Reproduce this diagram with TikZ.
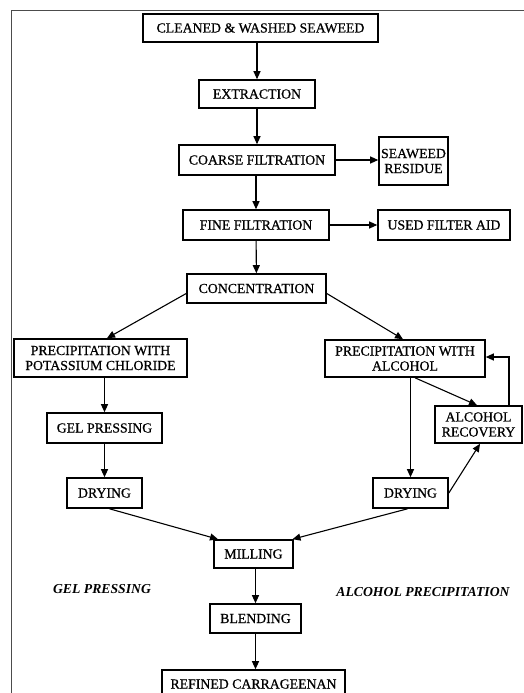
\documentclass[tikz,border=0pt]{standalone}
\usepackage{fontspec}
\setmainfont{Liberation Serif}
\newfontfamily\scanfont{Liberation Serif}[FakeBold=0.7]
\usepackage{tikz}
\usetikzlibrary{arrows.meta}
\usetikzlibrary{positioning}
\usetikzlibrary{calc}
\tikzstyle{stage}=[draw,line width=1.6pt,inner sep=0pt,align=center,font=\scanfont\fontsize{13.8}{15}\selectfont]
\tikzstyle{flow}=[line width=1.1pt,-{Triangle[length=8pt,width=7pt]}]
\tikzstyle{phase}=[font=\fontsize{13.7}{15}\selectfont\bfseries\itshape]

\begin{document}
\begin{tikzpicture}[x=1pt,y=-1pt]
\path[use as bounding box,clip] (0,0) rectangle (524,693);
\draw[line width=0.8pt,black!70] (11,700) -- (11,10) -- (530,10);

% main line
\node [stage,minimum width=235,minimum height=28] (clean) at (260.5,28) {CLEANED \& WASHED SEAWEED};
\node [stage,minimum width=116,minimum height=28] (extr) at (257,94) {EXTRACTION};
\node [stage,minimum width=156,minimum height=30] (coarse) at (257,160) {COARSE FILTRATION};
\node [stage,minimum width=69,minimum height=48] (resid) at (413.5,161) {SEAWEED\\RESIDUE};
\node [stage,minimum width=146,minimum height=30] (fine) at (256,225) {FINE FILTRATION};
\node [stage,minimum width=132,minimum height=30] (used) at (444,225) {USED FILTER AID};
\node [stage,minimum width=139,minimum height=29] (conc) at (256.5,288.5) {CONCENTRATION};

% gel pressing branch
\node [stage,minimum width=173,minimum height=38] (kcl) at (100.5,358) {PRECIPITATION WITH\\POTASSIUM CHLORIDE};
\node [stage,minimum width=115,minimum height=30] (gel) at (104.5,428) {GEL PRESSING};
\node [stage,minimum width=75,minimum height=30] (dryL) at (104.5,493) {DRYING};

% alcohol branch
\node [stage,minimum width=160,minimum height=37] (alc) at (405,358.5) {PRECIPITATION WITH\\ALCOHOL};
\node [stage,minimum width=87,minimum height=37] (recov) at (478.5,424.5) {ALCOHOL\\RECOVERY};
\node [stage,minimum width=75,minimum height=30] (dryR) at (410.5,493) {DRYING};

\node [stage,minimum width=79,minimum height=28] (mill) at (253.5,554) {MILLING};
\node [stage,minimum width=91,minimum height=29] (blend) at (255.5,618.5) {BLENDING};
\node [stage,minimum width=183,minimum height=28] (refined) at (253.5,684) {REFINED CARRAGEENAN};

\node [phase] (gelname) at (102,589) {GEL PRESSING};
\node [phase] (alcname) at (423,592) {ALCOHOL PRECIPITATION};

\draw[flow] (clean.south -| extr.north) -- (extr.north);
\draw[flow] (extr) -- (coarse);
\draw[flow] (coarse.east) -- (coarse.east -| resid.west);
\draw[flow] (coarse.south -| fine.north) -- (fine.north);
\draw[flow] (fine) -- (used);
\draw[flow] (fine) -- (conc);
\draw[flow] ([yshift=-5pt]conc.west) -- ([xshift=6.5pt]kcl.north);
\draw[flow] ([yshift=-5pt]conc.east) -- ([xshift=-2pt]alc.north);
\draw[flow] (kcl.south -| gel.north) -- (gel.north);
\draw[flow] (gel) -- (dryL);
\draw[flow] (alc.south -| dryR.north) -- (dryR.north);
\draw[flow] ([xshift=10pt]alc.south) -- ([xshift=-1.5pt]recov.north);
\draw[flow] (dryR.east) -- ([xshift=1.5pt]recov.south);
\draw[flow] ([xshift=30.5pt]recov.north) |- ([yshift=1.5pt]alc.east);
\draw[flow] ([xshift=5pt]dryL.south) -- ([xshift=-35.5pt]mill.north);
\draw[flow] ([xshift=-3pt]dryR.south) -- ([xshift=39pt]mill.north);
\draw[flow] (mill.south -| blend.north) -- (blend.north);
\draw[flow] (blend.south) -- (blend.south |- refined.north);
\end{tikzpicture}
\end{document}
